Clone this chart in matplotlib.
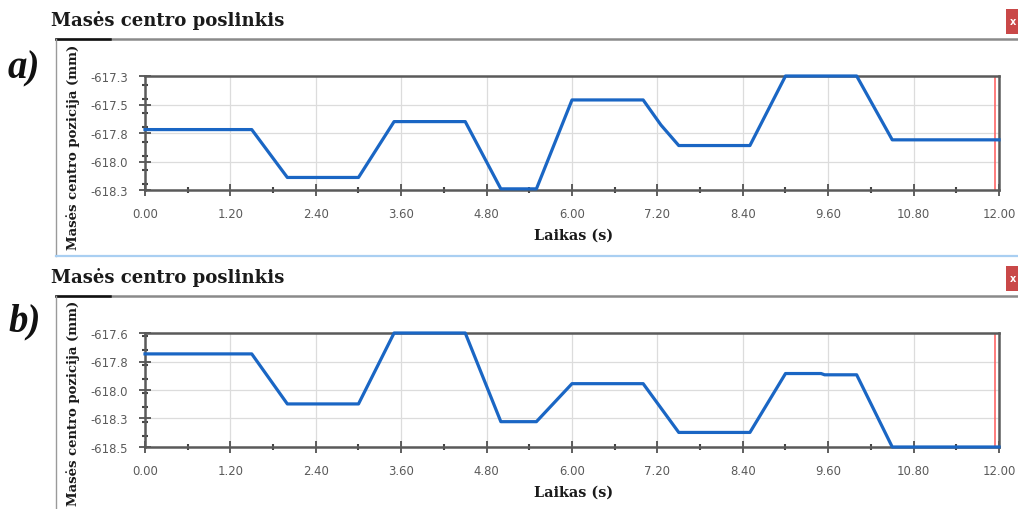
import matplotlib
matplotlib.use("Agg")
import matplotlib.pyplot as plt
from matplotlib.lines import Line2D
from matplotlib.patches import Rectangle
from matplotlib.ticker import MultipleLocator

# Time breakpoints (s) and centre-of-mass position (mm) for both runs
time_a = [0.0, 1.5, 2.0, 3.0, 3.5, 4.5, 5.0, 5.5, 6.0, 7.0, 7.25, 7.5, 8.5, 9.0, 10.0, 10.5, 12.0]
pos_a = [-617.77, -617.77, -618.19, -618.19, -617.70, -617.70, -618.29, -618.29,
         -617.51, -617.51, -617.73, -617.91, -617.91, -617.30, -617.30, -617.86, -617.86]

time_b = [0.0, 1.5, 2.0, 3.0, 3.5, 4.5, 5.0, 5.5, 6.0, 7.0, 7.5, 8.5, 9.0, 9.5, 9.55, 10.0, 10.5, 12.0]
pos_b = [-617.765, -617.765, -618.16, -618.16, -617.60, -617.60, -618.30, -618.30,
         -618.00, -618.00, -618.385, -618.385, -617.92, -617.92, -617.93, -617.93, -618.50, -618.50]

x_ticks = [0.0, 1.2, 2.4, 3.6, 4.8, 6.0, 7.2, 8.4, 9.6, 10.8, 12.0]
x_tick_labels = ["0.00", "1.20", "2.40", "3.60", "4.80", "6.00", "7.20", "8.40", "9.60", "10.80", "12.00"]

y_range_a = (-618.3, -617.3)
y_labels_a = ["-618.3", "-618.0", "-617.8", "-617.5", "-617.3"]
y_range_b = (-618.5, -617.6)
y_labels_b = ["-618.5", "-618.3", "-618.0", "-617.8", "-617.6"]

cursor_time = 11.94

title_text = "Masės centro poslinkis"
ylabel_text = "Masės centro pozicija (mm)"
xlabel_text = "Laikas (s)"
panel_tags = ["a)", "b)"]

W, H = 1018, 510
fig = plt.figure(figsize=(W / 100, H / 100), dpi=100)
fig.patch.set_facecolor("white")

SERIF = ["DejaVu Serif"]
TAG_SERIF = ["Liberation Serif", "DejaVu Serif"]
LINE_BLUE = "#1a66c4"


def px_box(x0, y0, x1, y1):
    return [x0 / W, 1 - y1 / H, (x1 - x0) / W, (y1 - y0) / H]


def hline(x0, x1, y, color, lw):
    fig.add_artist(Line2D([x0 / W, x1 / W], [1 - y / H, 1 - y / H],
                          color=color, lw=lw, transform=fig.transFigure))


def vline(x, y0, y1, color, lw):
    fig.add_artist(Line2D([x / W, x / W], [1 - y0 / H, 1 - y1 / H],
                          color=color, lw=lw, transform=fig.transFigure))


def draw_panel(top, t, p, yr, ylabels, tag, tag_y, ylabel_y, bottom_line):
    # window chrome: title, frame lines, close button
    fig.text(51 / W, 1 - (top - 19) / H, title_text, family=SERIF, fontweight="bold",
             fontsize=13.1, color="#1a1a1a", va="center", ha="left")
    hline(56, W, top, "#8a8a8a", 1.8)
    hline(56, 110, top, "#111111", 1.8)
    vline(56, top, bottom_line, "#9a9a9a", 1.0)
    if bottom_line < H:
        hline(56, W, bottom_line, "#a9cff2", 1.6)
    fig.add_artist(Rectangle(((1006) / W, 1 - (top - 5) / H), 14 / W, 25 / H,
                             transform=fig.transFigure, facecolor="#c94848",
                             edgecolor="none"))
    fig.text(1013 / W, 1 - (top - 18) / H, "x", color="white", fontsize=7,
             ha="center", va="center", fontweight="bold")
    fig.text(8 / W, 1 - tag_y / H, tag, family=TAG_SERIF, fontweight="bold",
             fontstyle="italic", fontsize=28, color="#111111", va="center", ha="left")
    fig.text(73 / W, 1 - ylabel_y / H, ylabel_text, family=SERIF,
             fontweight="bold", fontsize=9.5, color="#1a1a1a", rotation=90,
             ha="center", va="center")

    ax_top = top + 37
    ax_bot = ax_top + 114
    ax = fig.add_axes(px_box(145, ax_top, 999, ax_bot))
    ax.plot(t, p, color=LINE_BLUE, lw=2.3, solid_joinstyle="round", zorder=3, clip_on=False)
    ax.axvline(cursor_time, color="#ff5a5a", lw=1.1, zorder=2)
    ax.set_xlim(0, 12)
    ax.set_ylim(*yr)
    yticks = [yr[0] + i * (yr[1] - yr[0]) / 4 for i in range(5)]
    ax.set_yticks(yticks)
    ax.set_yticklabels(ylabels)
    ax.yaxis.set_minor_locator(MultipleLocator((yr[1] - yr[0]) / 8))
    ax.set_xticks(x_ticks)
    ax.set_xticklabels(x_tick_labels)
    ax.xaxis.set_minor_locator(MultipleLocator(0.6))
    ax.grid(True, which="major", color="#dcdcdc", lw=0.9)
    ax.set_axisbelow(True)
    for s in ax.spines.values():
        s.set_color("#5a5a5a")
        s.set_linewidth(1.8)
    ax.tick_params(which="major", direction="inout", length=8, width=1.2,
                   color="#444444", labelsize=8.4, labelcolor="#5a5a5a", pad=8)
    ax.tick_params(which="minor", direction="inout", length=4, width=1.5,
                   color="#444444")
    for lab in ax.get_xticklabels() + ax.get_yticklabels():
        lab.set_family(["DejaVu Sans"])
    fig.text(574 / W, 1 - (ax_bot + 45) / H, xlabel_text, family=SERIF,
             fontweight="bold", fontsize=10.4, color="#1a1a1a", ha="center", va="center")
    return ax


draw_panel(40, time_a, pos_a, y_range_a, y_labels_a, panel_tags[0], 69, 147, 257)
draw_panel(297, time_b, pos_b, y_range_b, y_labels_b, panel_tags[1], 322, 403, H + 5)

fig.savefig("out.png", dpi=100, facecolor="white")
